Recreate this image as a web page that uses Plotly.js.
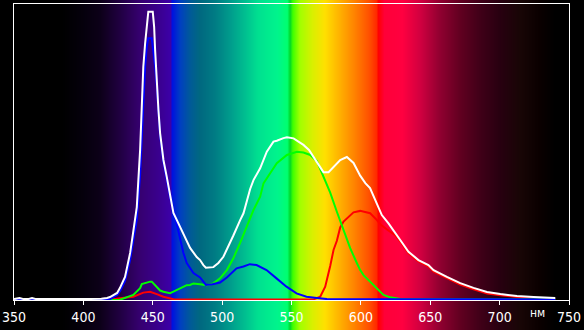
<!DOCTYPE html>
<html>
<head>
<meta charset="utf-8">
<script src="https://cdn.plot.ly/plotly-3.0.1.min.js"></script>
<style>html,body{margin:0;padding:0;background:#000;}#chart{width:584px;height:330px;}</style>
</head>
<body>
<div id="chart"></div>
<script>
// Wavelength axis ticks
const tickVals = [350, 400, 450, 500, 550, 600, 650, 700, 750];
const tickText = ['350', '400', '450', '500', '550', '600', '650', '700', '750'];
const unitLabel = 'нм';

// White (total) spectrum
const whiteX = [350,354,357,360,363,366,400,413,417,419.2,424.3,426.4,430,433.7,435.8,438.5,440.9,442.1,443.2,444.5,445.7,446.8,450,451,451.7,452.9,454.1,455.3,457.7,460.1,462.5,464.9,469.7,473.3,476.9,481.7,484.1,486.5,488.3,493.7,497.3,500.9,504.5,508.1,513,515.4,520.2,522.6,527.4,532.2,537,539.4,544.2,546.7,551.5,558.6,562.6,565.8,573,576.7,580.3,585.1,589.9,594.7,599.5,603.2,606.6,610.2,615.1,619.9,624.7,629.5,634.3,641.5,648.7,652.4,662,671.6,681.2,690.9,700.5,712.5,724.5,734.2,740.1];
const whiteY = [0.3,0.7,0.3,0.3,0.7,0.3,0.3,0.4,0.7,1.0,2.4,4.1,7.8,15.9,22.6,31.4,50.7,67.6,78.8,86.7,93.5,97.4,97.4,92.3,84.5,73.3,64.2,56.4,47.3,41.6,36.1,29.4,24.7,20.9,17.6,14.5,13.5,11.8,10.9,11.1,12.5,14.6,18.5,21.8,27.0,29.3,37.5,40.5,44.5,50.1,53.5,53.8,54.7,55.0,54.6,52.4,50.7,48.3,43.2,43.2,44.9,47.3,48.3,46.3,42.0,39.5,37.8,33.8,28.7,25.9,22.5,19.5,16.3,13.5,11.8,10.1,7.8,5.7,4.1,2.7,2.0,1.35,1.0,0.7,0.7];

// Blue channel
const blueX = [350,415.6,419.2,424.3,426.4,430,433.7,435.8,438.5,440.9,443.2,444.5,445.7,446.8,449.3,450.5,451.7,452.9,454.1,455.3,457.7,460.1,462.5,466.1,469.7,472.1,474.5,479.3,484.1,488.3,493.1,498.5,503.4,510.4,515.4,520,524.8,532,539.2,546.4,553.6,560.8,568.3,575.5,628.4,664.4,740.1];
const blueY = [0.2,0.2,0.3,1.7,3.0,6.4,13.5,19.6,27.0,42.2,67.6,78.8,85.6,88.4,88.4,84.5,78.8,72.6,63.5,55.7,46.6,40.5,34.8,28.0,20.3,15.9,12.5,9.1,7.6,5.1,5.3,5.9,7.6,10.7,11.3,12.1,11.8,10.1,7.3,4.5,2.25,1.1,0.7,0.3,0.25,0.3,0.2];

// Green channel
const greenX = [420,426.4,436,439.4,440.9,442.1,445.7,448.1,449.3,450.5,452.9,455.3,457.7,460.1,462.5,464.9,469.7,474.5,476.9,479.3,484.1,489,493.7,498.5,503.4,508.1,512.9,517.8,522.6,527.4,529.8,534.6,539.4,546.7,553.9,558.6,563.5,568.3,573,577.9,582.7,587.5,592.3,597.1,599.5,601.9,606.7,611.6,616.3,621.1,628.4,740.1];
const greenY = [0,0.1,1.7,3.4,4.0,5.4,6.0,6.2,6.2,5.6,4.6,3.2,2.8,2.5,2.3,2.8,3.9,5.0,5.1,5.6,5.3,5.0,5.6,7.3,10.1,14.1,19.2,24.8,30.4,34.9,39.4,42.8,46.2,49.0,50.1,49.8,49.0,46.9,41.6,36.3,29.8,23.6,17.5,12.5,10.1,8.4,6.2,4.0,1.7,0.9,0.35,0.25];

// Red channel
const redX = [415,419.2,426.4,436,443.2,448.1,452.9,457.7,464.9,565.6,570.7,574.3,577.9,580.3,582.7,585.1,587.5,592.3,594.7,599.5,604.3,606.7,611.6,614,618.8,624.7,629.5,634.3,641.5,648.7,652.4,662,671.6,681.2,690.9,700.5,712.5,724.5,734.2,740.1];
const redY = [0,0.1,0.6,1.1,2.5,2.8,2.0,1.1,0.25,0.15,1.1,4.5,11.5,16.9,20.0,24.5,26.5,28.7,29.6,30.1,29.7,29.3,27.0,25.6,23.8,21.9,19.0,15.8,13.0,11.3,9.6,7.3,5.2,3.6,2.2,1.6,1.0,0.7,0.4,0.4];

// Spectrum background colour stops (wavelength, colour)
const bgStops = [
  [340,'#000000'],[385,'#000000'],[400,'#05000c'],[412,'#0c0018'],[426,'#200040'],[441,'#360070'],
  [455,'#3a0090'],[463,'#3c00a8'],[464,'#0010e0'],[470,'#0040c0'],[477,'#005a98'],[484,'#006880'],
  [495,'#007c84'],[506,'#009c8c'],[517,'#00c090'],[526,'#00e090'],[540,'#00f48c'],[547,'#00ff70'],
  [549,'#00d828'],[551,'#40ff00'],[556,'#a0ff00'],[565,'#d8f000'],[574,'#ffe000'],[585,'#ffb000'],
  [596,'#ff8000'],[606,'#ff5000'],[611.5,'#ff2800'],[612.5,'#ff0000'],[617,'#ff0038'],[630,'#ff0040'],
  [643,'#d00040'],[657,'#900030'],[672,'#600020'],[686,'#400018'],[700,'#280010'],[715,'#180606'],
  [729,'#0a0000'],[740,'#000000'],[800,'#000000']
];

const W = 584, H = 330;
const M = {l: 14, r: 15, t: 4, b: 30};
const plotW = W - M.l - M.r, plotH = H - M.t - M.b;

function hex2rgb(h){return [parseInt(h.substr(1,2),16),parseInt(h.substr(3,2),16),parseInt(h.substr(5,2),16)];}
function colorAt(nm){
  for(let i=0;i<bgStops.length-1;i++){
    const a=bgStops[i], b=bgStops[i+1];
    if(nm>=a[0] && nm<=b[0]){
      const t=(nm-a[0])/(b[0]-a[0]);
      const ca=hex2rgb(a[1]), cb=hex2rgb(b[1]);
      return ca.map((v,k)=>Math.round(v+(cb[k]-v)*t));
    }
  }
  return [0,0,0];
}
const cv = document.createElement('canvas');
cv.width = W; cv.height = 1;
const ctx = cv.getContext('2d');
const img = ctx.createImageData(W,1);
for(let px=0;px<W;px++){
  const nm = 350 + (px + 0.5 - M.l)/plotW*400;
  const c = colorAt(nm);
  img.data[px*4]=c[0];img.data[px*4+1]=c[1];img.data[px*4+2]=c[2];img.data[px*4+3]=255;
}
ctx.putImageData(img,0,0);
const bgURL = cv.toDataURL('image/png');

const traces = [
  {x: redX, y: redY, mode:'lines', line:{color:'#ff0000', width:2}, hoverinfo:'skip'},
  {x: greenX, y: greenY, mode:'lines', line:{color:'#00ff00', width:2}, hoverinfo:'skip'},
  {x: blueX, y: blueY, mode:'lines', line:{color:'#0000ff', width:2}, hoverinfo:'skip'},
  {x: whiteX, y: whiteY, mode:'lines', line:{color:'#ffffff', width:2}, hoverinfo:'skip'}
];

const layout = {
  width: W, height: H,
  margin: M,
  showlegend: false,
  paper_bgcolor: '#000000',
  plot_bgcolor: 'rgba(0,0,0,0)',
  images: [{
    source: bgURL, xref:'paper', yref:'paper',
    x: -M.l/plotW, y: 1 + M.t/plotH, sizex: W/plotW, sizey: H/plotH,
    xanchor:'left', yanchor:'top', sizing:'stretch', layer:'below'
  }],
  xaxis: {
    range: [350, 750], tickvals: tickVals, ticktext: tickText,
    ticks: 'outside', ticklen: 4, tickcolor: '#ffffff', tickwidth: 1,
    showline: true, mirror: true, linecolor: '#ffffff', linewidth: 1,
    showgrid: false, zeroline: false,
    tickfont: {family: '"Liberation Sans Narrow", "DejaVu Sans Condensed", Arial, sans-serif', size: 14, color: '#ffffff'}
  },
  yaxis: {
    range: [0, 100], showticklabels: false, ticks: '',
    showline: true, mirror: true, linecolor: '#ffffff', linewidth: 1,
    showgrid: false, zeroline: false
  },
  annotations: [{
    text: unitLabel, xref: 'x', yref: 'paper', x: 727, y: -0.045,
    showarrow: false, xanchor: 'center', yanchor: 'middle',
    font: {family: '"Liberation Sans Narrow", "DejaVu Sans Condensed", Arial, sans-serif', size: 12, color: '#ffffff'}
  }]
};

Plotly.newPlot('chart', traces, layout, {displayModeBar: false, staticPlot: true});
</script>
</body>
</html>
